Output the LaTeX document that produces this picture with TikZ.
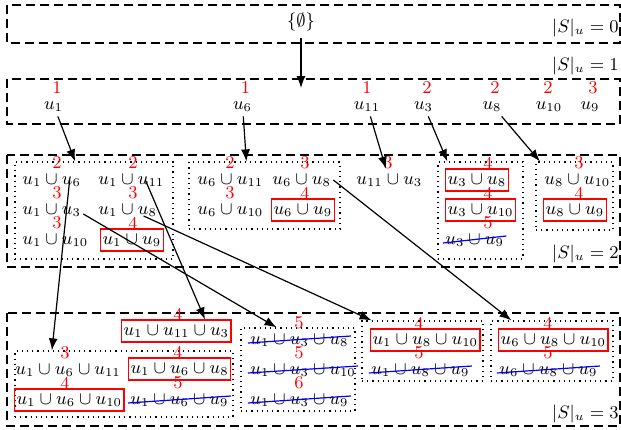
\documentclass[tikz,border=0pt]{standalone}
\usepackage{amsmath, amssymb}
\usepackage{tikz}
\usetikzlibrary{arrows.meta}

\begin{document}
\begin{tikzpicture}[x=0.5pt, y=-0.5pt, font=\fontsize{9}{11}\selectfont,
    layer/.style={semithick, dash pattern=on 4.5pt off 2.5pt},
    grp/.style={draw, semithick, dotted, inner sep=0pt},
    elem/.style={inner sep=1pt, text height=6.5pt, text depth=2.5pt, anchor=west},
    free/.style={elem},
    kept/.style={elem, draw=red, semithick},
    struck/.style={elem},
    strike/.style={blue, semithick},
    num/.style={red, inner sep=0pt},
    arr/.style={semithick, -{Latex[length=6pt, width=4.5pt]}}]
  \useasboundingbox (0,0) rectangle (621,429);

  % layers
  \draw[layer] (7,5) rectangle (620,43);
  \draw[layer] (7,79) rectangle (620,124);
  \draw[layer] (7,155) rectangle (620,267);
  \draw[layer] (7,313) rectangle (620,426);
  \foreach \k/\y in {0/28, 1/66, 2/254, 3/414}{
    \node[anchor=east, inner sep=0pt] (size\k) at (619,\y) {$|S|_u=\k$};
  }

  \node (empty) at (301,22) {$\{\emptyset\}$};
  \coordinate (start) at (301,88);

  % singletons
  \foreach \i/\x/\c/\cx in {1/53.5/1/57, 6/242.5/1/245.5, 11/367/1/367, 3/423.5/2/427,
      8/492/2/495, 10/549/2/548, 9/590/3/593}{
    \node[elem, anchor=center] (u\i) at (\x,105) {$u_{\i}$};
    \node[num] (u\i-c) at (\cx,88) {\c};
  }

  % dotted groups
  \foreach \g/\x/\y/\w/\h in {gA/94/210.5/79/48.5, gB/264.5/195.5/75.5/33.5,
      gC/480.5/210.5/42.5/48.5, gD/574.5/196/38.5/34, gE/124/384/109/33,
      gF/298/369.5/57/41.5, gG/422.5/351/60.5/30, gH/552/351/61/30}{
    \node[grp, minimum width=\w*1pt, minimum height=\h*1pt] (\g) at (\x,\y) {};
  }

  % unions
  \foreach \n/\s/\x/\y/\t/\c/\cx in {
      s1x6/free/20/180/u_1\cup u_6/2/57,
      s1x11/free/96/180/u_1\cup u_{11}/2/133,
      s1x3/free/20/210/u_1\cup u_3/3/57,
      s1x8/free/96/210/u_1\cup u_8/3/133,
      s1x10/free/20/240/u_1\cup u_{10}/3/57,
      s1x9/kept/100/240/u_1\cup u_9/4/133,
      s6x11/free/195/180/u_6\cup u_{11}/2/230,
      s6x8/free/270/180/u_6\cup u_8/3/305,
      s6x10/free/195/210/u_6\cup u_{10}/3/230,
      s6x9/kept/271/210/u_6\cup u_9/4/305,
      s11x3/free/354/180/u_{11}\cup u_3/3/388,
      s3x8/kept/445/180/u_3\cup u_8/4/488,
      s3x10/kept/445/210/u_3\cup u_{10}/4/488,
      s3x9/struck/443/240/u_3\cup u_9/5/488,
      s8x10/free/542/180/u_8\cup u_{10}/3/579,
      s8x9/kept/543/210/u_8\cup u_9/4/579,
      s1x11x3/kept/121/331/u_1\cup u_{11}\cup u_3/4/178,
      s1x6x11/free/13/370/u_1\cup u_6\cup u_{11}/3/65,
      s1x6x8/kept/128/369/u_1\cup u_6\cup u_8/4/178,
      s1x6x10/kept/14/400/u_1\cup u_6\cup u_{10}/4/65,
      s1x6x9/struck/128/400/u_1\cup u_6\cup u_9/5/178,
      s1x3x8/struck/248/340/u_1\cup u_3\cup u_8/5/299,
      s1x3x10/struck/248/370/u_1\cup u_3\cup u_{10}/5/299,
      s1x3x9/struck/248/400/u_1\cup u_3\cup u_9/6/299,
      s1x8x10/kept/370/340/u_1\cup u_8\cup u_{10}/4/419,
      s1x8x9/struck/369/370/u_1\cup u_8\cup u_9/5/419,
      s6x8x10/kept/498/340/u_6\cup u_8\cup u_{10}/4/548,
      s6x8x9/struck/497/370/u_6\cup u_8\cup u_9/5/548}{
    \node[\s] (\n) at (\x,\y) {$\t$};
    \node[num] (\n-c) at (\cx,\y-17) {\c};
  }
  \foreach \n in {s3x9, s1x6x9, s1x3x8, s1x3x10, s1x3x9, s1x8x9, s6x8x9}
    \draw[strike] ([yshift=-1.5pt]\n.west) -- ([yshift=2pt]\n.east);

  % arrows
  \draw[arr] (empty) -- (start);
  \draw[arr] (u1) -- (gA.111);
  \draw[arr] (u6) -- (gB.118);
  \draw[arr] (u11) -- (s11x3);
  \draw[arr] (u3) -- (gC.124);
  \draw[arr] (u8) -- (gD.135);
  \draw[arr] ([xshift=9pt]s1x6.center) -- (gE.155);
  \draw[arr] ([xshift=7pt]s1x11.center) -- (s1x11x3.22);
  \draw[arr] ([yshift=-2pt]s1x3.east) -- (gF.117);
  \draw[arr] ([xshift=8pt,yshift=-3pt]s1x8.center) -- (gG.149);
  \draw[arr] (s6x8.east) -- (gH.143);
\end{tikzpicture}
\end{document}
